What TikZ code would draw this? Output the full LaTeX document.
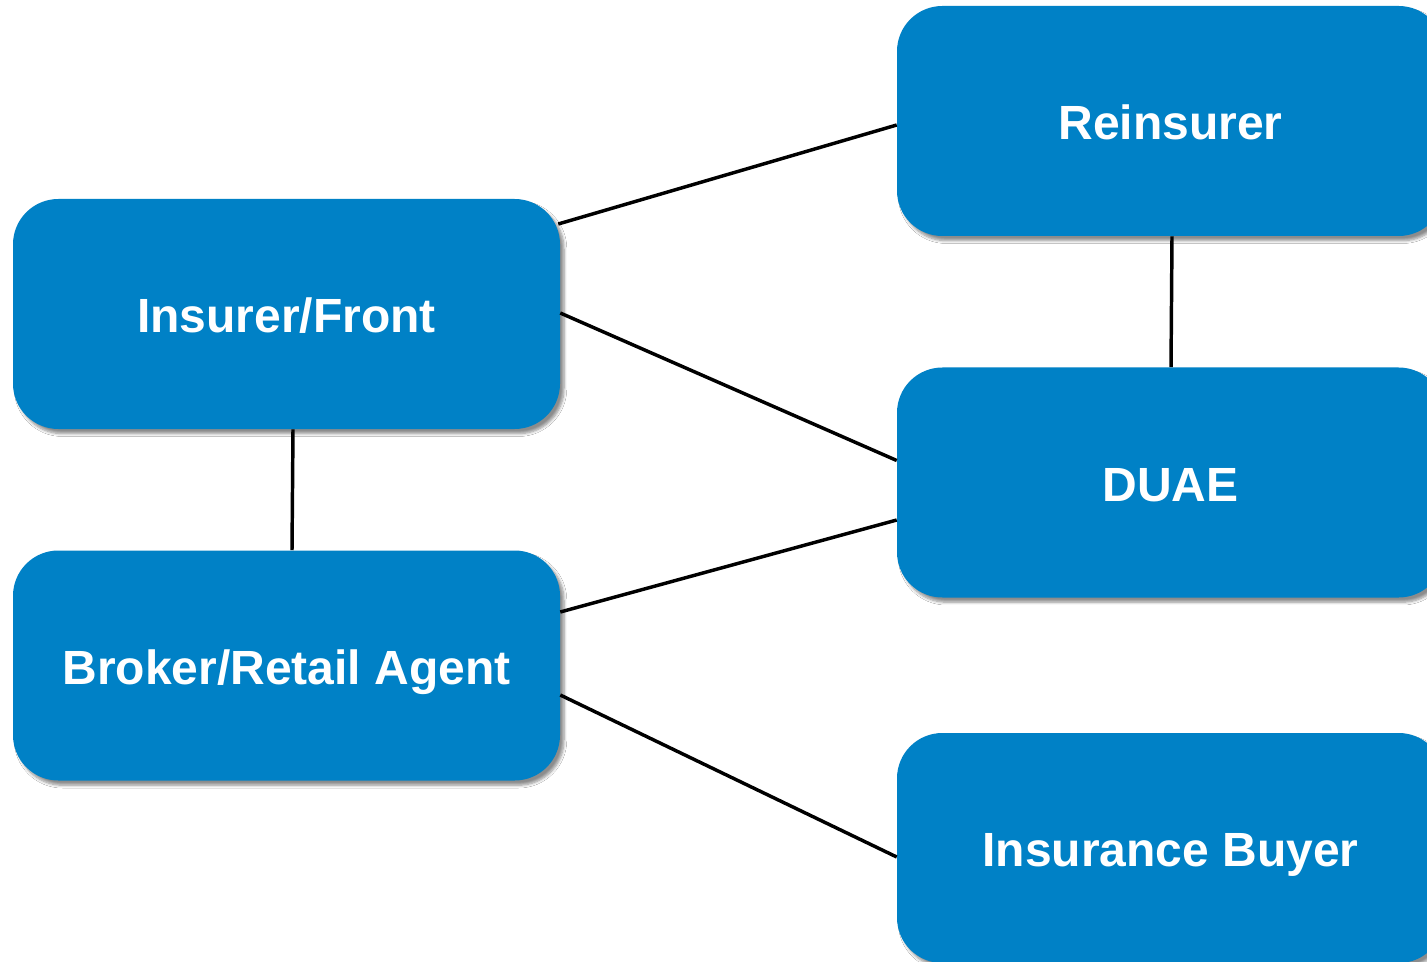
\documentclass[tikz,border=0pt]{standalone}
\usepackage{fontspec}
\setmainfont{Liberation Sans}
\usetikzlibrary{calc,shadows.blur}
\definecolor{boxblue}{HTML}{0081C6}
\tikzset{
  party/.style={draw=none, fill=boxblue, rounded corners=34pt,
    minimum width=410.25pt, minimum height=172.5pt, inner sep=0pt,
    text height=28pt, text depth=0pt,
    text=white, font=\fontsize{36pt}{40pt}\selectfont\bfseries,
    blur shadow={shadow xshift=3pt, shadow yshift=-3.5pt, shadow blur steps=6, shadow opacity=45}},
  link/.style={draw=black, line width=2.6pt}
}
\begin{document}
\begin{tikzpicture}[x=0.75pt, y=-0.75pt]
  \useasboundingbox (0,0) rectangle (1427,962);
  \clip (0,0) rectangle (1427,962);
  \fill[white] (0,0) rectangle (1427,962);

  % parties
  \node[party] (ins) at (286.5,314) {Insurer/Front};
  \node[party] (bro) at (286.5,665.5) {Broker/Retail Agent};
  \node[party] (rei) at (1170.5,121) {Reinsurer};
  \node[party] (dua) at (1170.5,482.5) {DUAE};
  \node[party] (buy) at (1170.5,848) {Insurance Buyer};

  % relationships
  \draw[link] ($(ins.east)+(-2,-90)$) -- ($(rei.west)+(0,4)$);
  \draw[link] ($(ins.east)+(0,-1)$) -- ($(dua.west)+(0,-22)$);
  \draw[link] ($(bro.east)+(0,-53.5)$) -- ($(dua.west)+(0,37.5)$);
  \draw[link] ($(bro.east)+(0,29.5)$) -- ($(buy.west)+(0,9)$);
  \draw[link] ($(ins.south)+(6.5,0)$) -- ($(bro.north)+(5.5,0)$);
  \draw[link] ($(rei.south)+(1.5,0)$) -- ($(dua.north)+(0.5,0)$);
\end{tikzpicture}
\end{document}
